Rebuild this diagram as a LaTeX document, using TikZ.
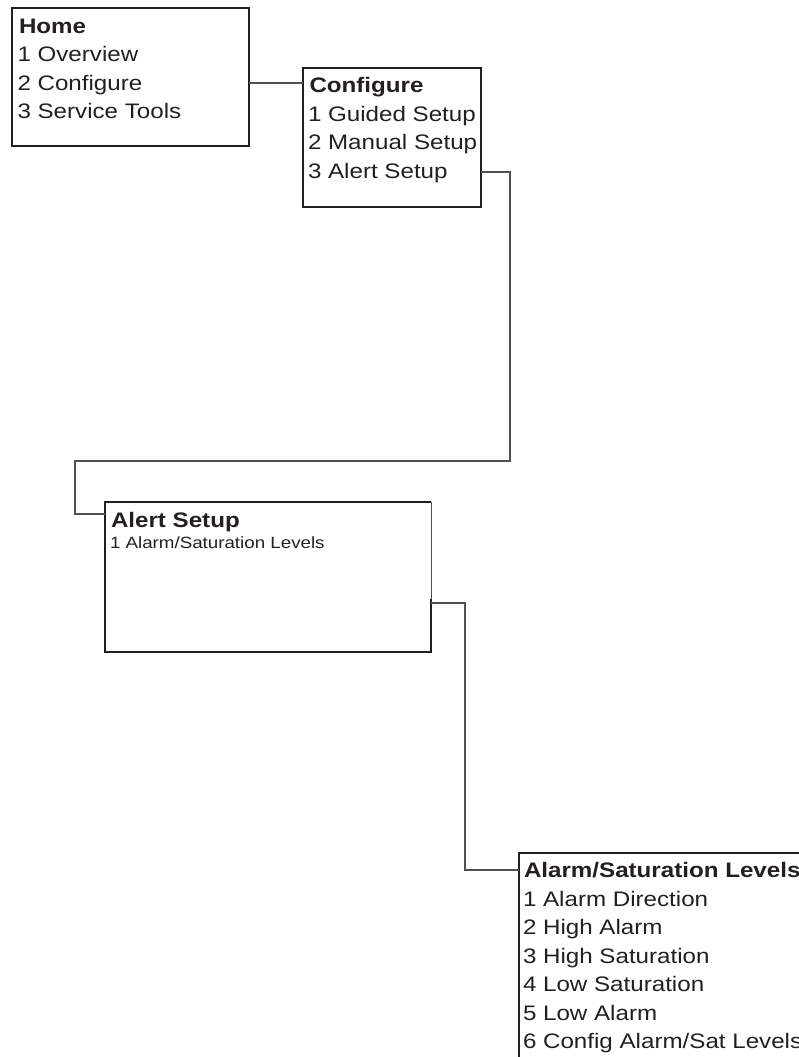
\documentclass[tikz,border=0pt]{standalone}
\usepackage{fontspec}
\newfontfamily\dfont[FakeStretch=1.15]{Liberation Sans}
\definecolor{ink}{HTML}{231F20}
\definecolor{wirec}{HTML}{505050}
\begin{document}
\begin{tikzpicture}[x=1pt,y=-1pt,
  menubox/.style={anchor=north west, inner sep=0pt, outer sep=0pt, draw=ink, line width=2.2pt},
  boxline/.style={draw=ink, line width=2.2pt},
  thinedge/.style={draw=wirec, line width=1pt},
  item/.style={anchor=base west, inner sep=0pt, outer sep=0pt, text=ink, font=\dfont\fontsize{21}{24}\selectfont},
  head/.style={item, font=\dfont\bfseries\fontsize{21}{24}\selectfont},
  smallitem/.style={item, font=\dfont\fontsize{16.3}{19}\selectfont},
  wire/.style={draw=wirec, line width=1.2pt}
]
\clip (0,0) rectangle (799,1057);
\path[use as bounding box] (0,0) rectangle (799,1057);

% Boxes
\node[menubox, minimum width=237pt, minimum height=138pt] (home) at (12,8) {};
\node[menubox, minimum width=178pt, minimum height=139pt] (cfg) at (303,68) {};
\node[menubox, draw=none, minimum width=326pt, minimum height=150pt] (alert) at (105,502) {};
\node[menubox, minimum width=330pt, minimum height=260pt] (alarm) at (519,853) {};

% Alert Setup border (right edge thin at top)
\coordinate (ab) at (431,599);
\draw[boxline] (alert.east |- ab) -- (alert.south east) -- (alert.south west) -- (alert.north west) -- (alert.north east);
\draw[thinedge] (alert.north east) -- (alert.east |- ab);

% Home texts
\node[head] (h0) at (19,33.3) {Home};
\node[item] (h1) at (17.5,61.7) {1 Overview};
\node[item] (h2) at (17.5,90) {2 Configure};
\node[item] (h3) at (17.5,118.3) {3 Service Tools};

% Configure texts
\node[head] (c0) at (309.5,92.5) {Configure};
\node[item] (c1t) at (308,121) {1 Guided Setup};
\node[item] (c2t) at (308,149.5) {2 Manual Setup};
\node[item] (c3t) at (308,178) {3 Alert Setup};

% Alert Setup texts
\node[head] (a0) at (111,527) {Alert Setup};
\node[smallitem] (a1) at (110,548) {1 Alarm/Saturation Levels};

% Alarm/Saturation texts
\node[head] (s0) at (524,877) {Alarm/Saturation Levels};
\node[item] (s1) at (523,906) {1 Alarm Direction};
\node[item] (s2) at (523,934.5) {2 High Alarm};
\node[item] (s3) at (523,963) {3 High Saturation};
\node[item] (s4) at (523,991.5) {4 Low Saturation};
\node[item] (s5) at (523,1020) {5 Low Alarm};
\node[item] (s6) at (523,1048.5) {6 Config Alarm/Sat Levels};

% Connectors
\coordinate (hy) at (0,83);
\draw[wire] (home.east |- hy) -- (cfg.west |- hy);

\coordinate (k1) at (510,172);
\coordinate (k2) at (510,461);
\coordinate (k3) at (75,461);
\coordinate (k4) at (75,514);
\draw[wire] (cfg.east |- k1) -- (k1) -- (k2) -- (k3) -- (k4) -- (alert.west |- k4);

\coordinate (m1) at (465,603);
\coordinate (m2) at (465,870);
\draw[wire] (alert.east |- m1) -- (m1) -- (m2) -- (alarm.west |- m2);
\end{tikzpicture}
\end{document}
